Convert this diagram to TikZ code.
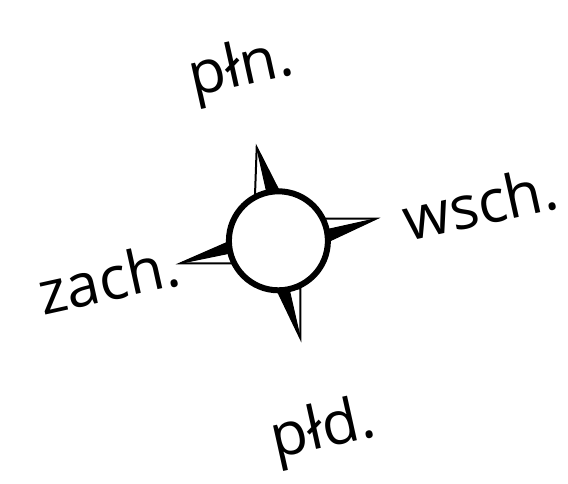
\documentclass[tikz,border=0pt]{standalone}
\usepackage{fontspec}
\setmainfont{Open Sans}
\tikzset{
  dir label/.style={rotate=12.5,inner sep=0pt,anchor=base,font=\fontsize{60}{64}\selectfont,text=black},
  arm outline/.style={draw=black,line width=2pt,fill=white,line join=miter},
  arm dark/.style={fill=black,draw=black,line width=1pt,line join=round},
  dial/.style={circle,draw=black,line width=6pt,fill=white,minimum size=99pt,inner sep=0pt}
}
\begin{document}
\begin{tikzpicture}[x=1pt,y=-1pt]
\useasboundingbox (0,0) rectangle (568,483);
\fill[white] (0,0) rectangle (568,483);
\coordinate (c) at (278.4,240.8);
% north arm
\path[arm outline] (256.7,147.5) -- (255,195) -- (278.3,190) -- cycle;
\path[arm dark] (256.7,147.5) -- (278.3,190) -- (266.7,192) -- cycle;
% east arm
\path[arm outline] (376,218.7) -- (325,218.7) -- (327,241.7) -- cycle;
\path[arm dark] (376,218.7) -- (327,241.7) -- (325,230) -- cycle;
% south arm
\path[arm outline] (300.3,338) -- (300.3,288) -- (278.3,292) -- cycle;
\path[arm dark] (300.3,338) -- (278.3,292) -- (289.3,290) -- cycle;
% west arm
\path[arm outline] (180.5,263.3) -- (232,263.3) -- (230,241.7) -- cycle;
\path[arm dark] (180.5,263.3) -- (230,241.7) -- (232,252.7) -- cycle;
\node[dial] (dial) at (c) {};
\node[dir label] (n) at (245,85) {płn.};
\node[dir label] (e) at (485,225) {wsch.};
\node[dir label] (w) at (113,300) {zach.};
\node[dir label] (s) at (327,447) {płd.};
\end{tikzpicture}
\end{document}
